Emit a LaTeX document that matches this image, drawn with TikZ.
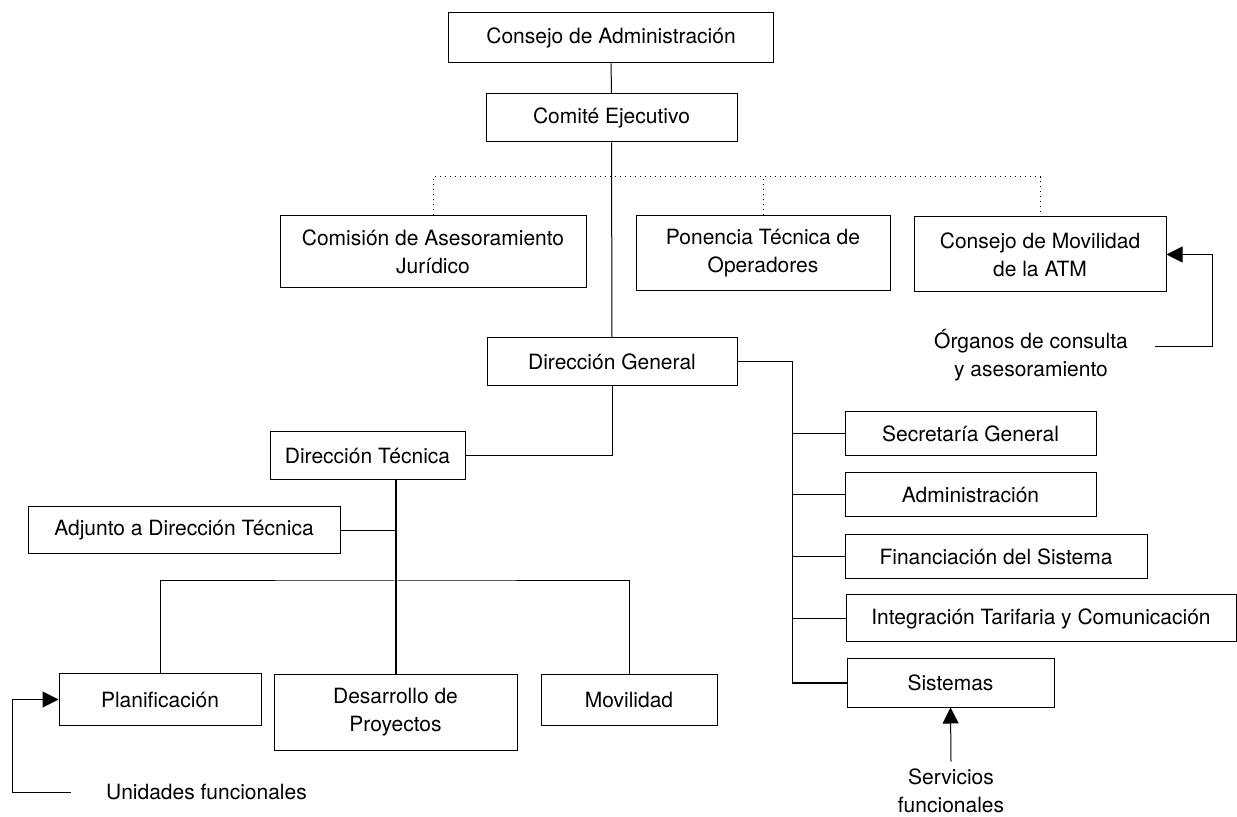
\documentclass[tikz,border=0pt]{standalone}
\usepackage{fontspec}
\setmainfont{TeX Gyre Heros}
\usetikzlibrary{arrows.meta}

\begin{document}
\begin{tikzpicture}[x=0.5pt, y=-0.5pt, line width=0.5pt,
  unit/.style={draw, rectangle, align=center, inner sep=0pt, font=\fontsize{10.5}{14}\selectfont},
  lbl/.style={align=center, inner sep=0pt, font=\fontsize{10.5}{14}\selectfont},
  arr/.style={-{Triangle[length=8pt,width=8pt]}}]
\useasboundingbox (0,0) rectangle (1237,817);

\node[unit, minimum width=162.5pt, minimum height=25pt] (consejo) at (611,38) {Consejo de Administración};
\node[unit, minimum width=125.5pt, minimum height=24pt] (comite) at (611.5,118) {Comité Ejecutivo};
\node[unit, minimum width=153pt, minimum height=36pt] (comision) at (433,252) {Comisión de Asesoramiento\\Jurídico};
\node[unit, minimum width=127pt, minimum height=37.5pt] (ponencia) at (763,253.5) {Ponencia Técnica de\\Operadores};
\node[unit, minimum width=126pt, minimum height=37.5pt] (movatm) at (1040,254.5) {Consejo de Movilidad\\de la ATM};
\node[unit, minimum width=125pt, minimum height=24pt] (dgeneral) at (612,362) {Dirección General};
\node[unit, minimum width=97.5pt, minimum height=24pt] (dtecnica) at (367.5,456) {Dirección Técnica};
\node[unit, minimum width=156pt, minimum height=23.5pt] (adjunto) at (184,530.5) {Adjunto a Dirección Técnica};
\node[unit, minimum width=101pt, minimum height=25.5pt] (planif) at (160,699.5) {Planificación};
\node[unit, minimum width=121.5pt, minimum height=37.5pt] (desarrollo) at (395.5,712.5) {Desarrollo de\\Proyectos};
\node[unit, minimum width=88pt, minimum height=25pt] (movilidad) at (629,700) {Movilidad};
\node[unit, minimum width=125.5pt, minimum height=22pt] (secretaria) at (970.5,434) {Secretaría General};
\node[unit, minimum width=125.5pt, minimum height=22pt] (admin) at (970.5,495) {Administración};
\node[unit, minimum width=151pt, minimum height=22pt] (financ) at (996,556.5) {Financiación del Sistema};
\node[unit, minimum width=195pt, minimum height=23.5pt] (integ) at (1041,618.5) {Integración Tarifaria y Comunicación};
\node[unit, minimum width=103.5pt, minimum height=24pt] (sistemas) at (950.5,683) {Sistemas};

\node[lbl] (organos) at (1031,355) {Órganos de consulta\\y asesoramiento};
\node[lbl, inner sep=3.5pt] (servicios) at (951,791) {Servicios\\funcionales};
\node[lbl] (unidades) at (206.5,792) {Unidades funcionales};

\coordinate (bus) at (612,177);
\coordinate (rtop) at (792,362);
\coordinate (lbus) at (396,581);
\coordinate (orgtail) at (1155,347);
\coordinate (orgbend) at (1212,347);
\coordinate (unitail) at (71,792);
\coordinate (unibend) at (12,792);

\draw (consejo) -- (comite);
\draw (comite) -- (dgeneral);
\draw[dotted] (comision.north) |- (bus) -| (movatm.north);
\draw[dotted] (ponencia.north) -- (ponencia.north |- bus);

\draw (dgeneral.east) -- (rtop) |- (sistemas.west);
\foreach \n in {secretaria,admin,financ,integ}
  \draw (\n.west) -- (\n.west -| rtop);

\draw (dgeneral.south) |- (dtecnica.east);
\draw[line width=1pt] (desarrollo.north) -- (desarrollo.north |- dtecnica.south);
\draw (adjunto.east) -- (adjunto.east -| desarrollo.north);
\draw (planif.north) |- (lbus) -| (movilidad.north);

\draw[arr] (orgtail) -- (orgbend) |- (movatm.east);
\draw[arr] (servicios.north) -- (sistemas.south);
\draw[arr] (unitail) -- (unibend) |- (planif.west);
%\node at (600,800) {};
\end{tikzpicture}
\end{document}
